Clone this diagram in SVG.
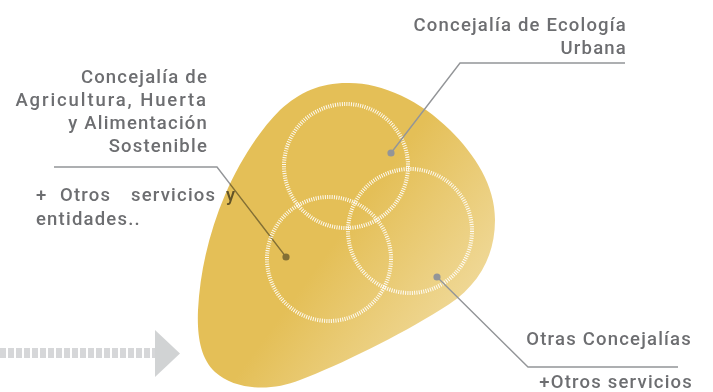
<svg xmlns="http://www.w3.org/2000/svg" width="713" height="392" viewBox="0 0 713 392">
<style>
.t{font-family:Roboto,"Noto Sans","Liberation Sans",sans-serif;font-size:18.5px;font-weight:500;fill:#6d6e71;letter-spacing:1.2px}
.ln{fill:none;stroke:#939598;stroke-width:1.4}
.dot{fill:#939598}
.ring{fill:none;stroke:#ffffff;stroke-width:4;stroke-dasharray:1 1.3;opacity:0.92}
</style>
<defs>
<linearGradient id="g" gradientUnits="userSpaceOnUse" x1="340" y1="235" x2="490" y2="345">
<stop offset="0" stop-color="#e4bf57"/>
<stop offset="1" stop-color="#f3e0aa"/>
</linearGradient>
</defs>
<rect width="713" height="392" fill="#ffffff"/>
<g id="arrow">
<line x1="0" y1="353" x2="155" y2="353" stroke="#d6d7d9" stroke-width="10" stroke-dasharray="6 2"/>
<polygon points="155,330 180,353.5 155,377" fill="#d1d3d4"/>
</g>
<g id="node-agricultura">
<text class="t" text-anchor="end"><tspan x="208" y="83">Concejalía de</tspan><tspan x="208" y="106" style="letter-spacing:1.9px">Agricultura, Huerta</tspan><tspan x="208" y="129">y Alimentación</tspan><tspan x="208" y="152">Sostenible</tspan></text>
<text class="t"><tspan x="36" y="201">+</tspan><tspan x="60" y="201">Otros</tspan><tspan x="131" y="201">servicios</tspan><tspan x="226" y="201">y</tspan><tspan x="36" y="225">entidades..</tspan></text>
</g>
<g id="connectors-under">
<polyline class="ln" points="54,167 217,167 286,257"/>
<circle class="dot" cx="286" cy="257" r="3.6"/>
</g>
<g id="blob">
<path d="M 347,83 C 380,82 420,100 450,130 C 475,155 495,185 495,220 C 495,260 475,290 440,310 C 400,335 340,365 300,380 C 270,392 235,390 215,372 C 200,358 197,335 198,310 C 200,270 210,230 225,195 C 240,160 260,130 280,110 C 300,92 320,83 347,83 Z" fill="url(#g)" style="mix-blend-mode:multiply"/>
</g>
<g id="rings">
<circle class="ring" cx="346" cy="166" r="62"/>
<circle class="ring" cx="329" cy="259" r="62"/>
<circle class="ring" cx="410" cy="231" r="62"/>
</g>
<g id="connectors">
<polyline class="ln" points="391,153 460,63 625,63"/>
<circle class="dot" cx="391" cy="153" r="3.6"/>
<polyline class="ln" points="437,277 528,367 678,367"/>
<circle class="dot" cx="437" cy="277" r="3.6"/>
</g>
<g id="node-ecologia">
<text class="t" text-anchor="end"><tspan x="627" y="31">Concejalía de Ecología</tspan><tspan x="627" y="54">Urbana</tspan></text>
</g>
<g id="node-otras">
<text class="t" text-anchor="end"><tspan x="692" y="345">Otras Concejalías</tspan><tspan x="693" y="388">+Otros servicios</tspan></text>
</g>
</svg>
